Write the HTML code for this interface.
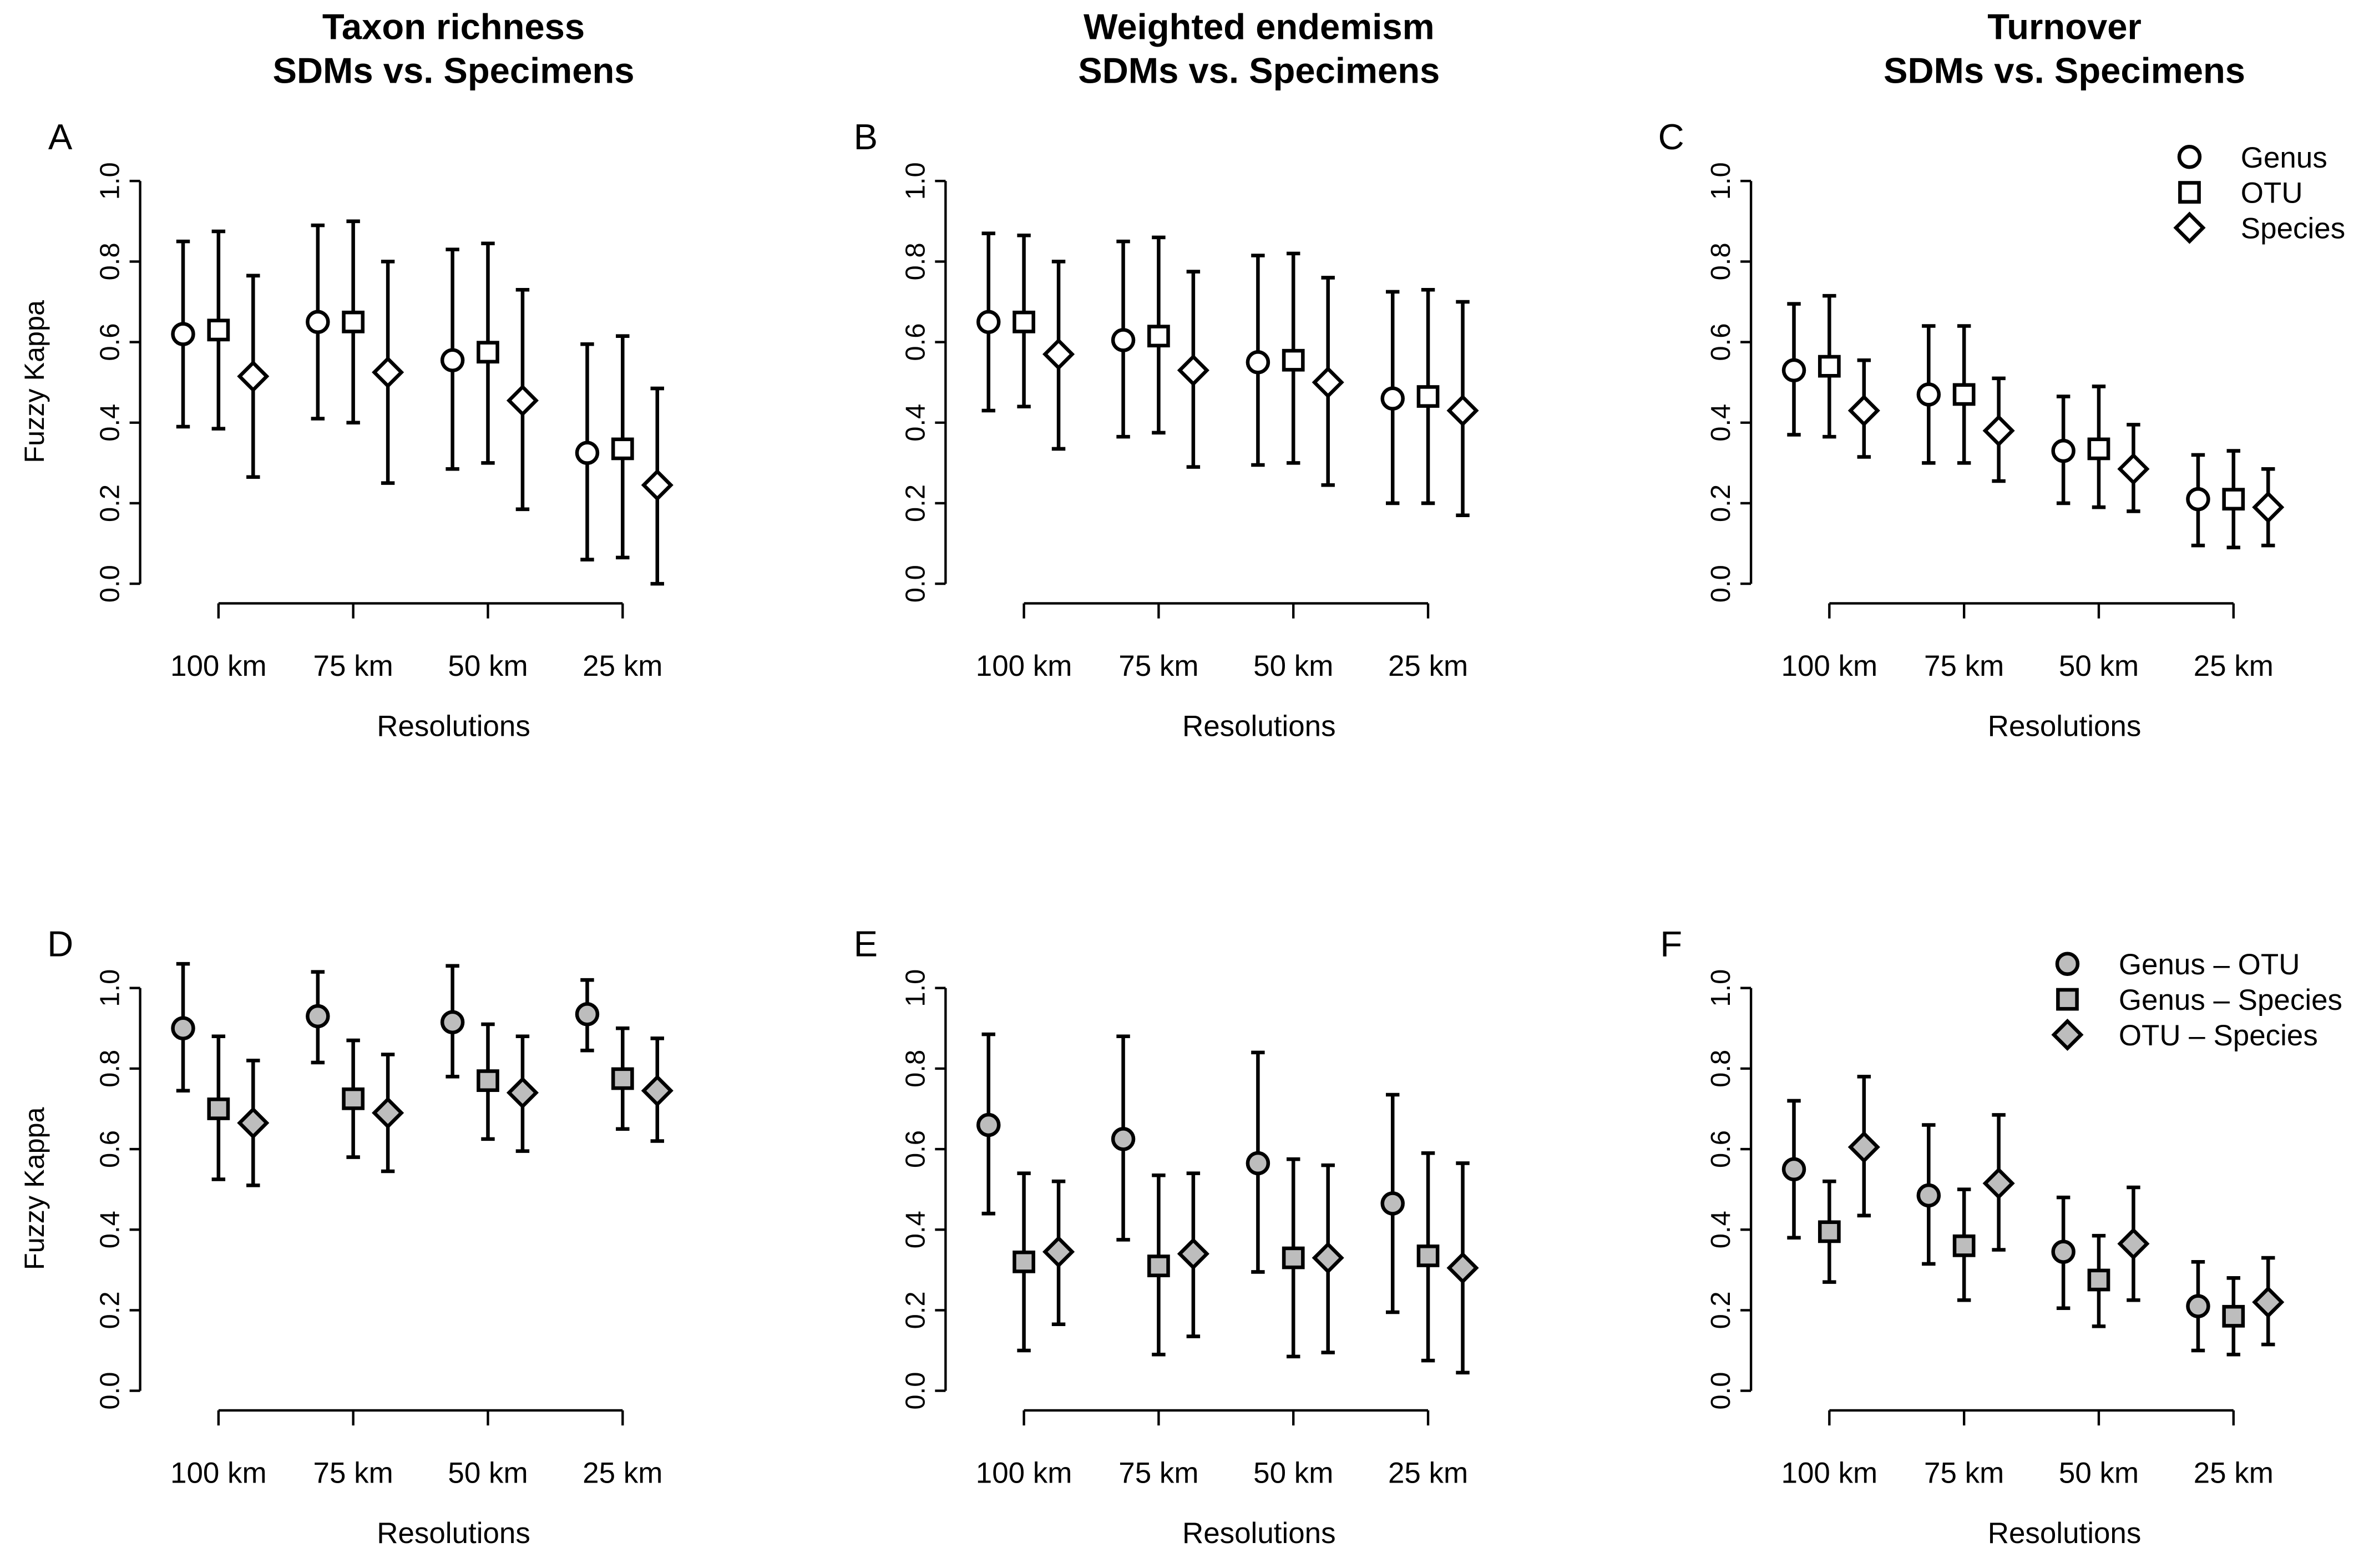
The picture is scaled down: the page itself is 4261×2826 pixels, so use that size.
<!DOCTYPE html>
<html><head><meta charset="utf-8"><style>html,body{margin:0;padding:0;background:#fff}svg{display:block}text{font-family:"Liberation Sans",Arial,sans-serif;fill:#000}</style></head>
<body>
<svg id="chart" width="4261" height="2826" viewBox="0 0 1568.8 1039.5" preserveAspectRatio="none" xmlns="http://www.w3.org/2000/svg"></svg>
<script>
const resolutions = ["100 km","75 km","50 km","25 km"];
const yTicks = [0,0.2,0.4,0.6,0.8,1.0];
const yTickLabels = ["0.0","0.2","0.4","0.6","0.8","1.0"];
const panelLetters = ["A","B","C","D","E","F"];
const colTitles = [["Taxon richness","SDMs vs. Specimens"],["Weighted endemism","SDMs vs. Specimens"],["Turnover","SDMs vs. Specimens"]];
const topSeries = ["Genus","OTU","Species"];
const bottomSeries = ["Genus \u2013 OTU","Genus \u2013 Species","OTU \u2013 Species"];
// per panel: [series][resolution] = mean, low, high
const meanA = [[.62,.65,.555,.325],[.63,.65,.575,.335],[.515,.525,.455,.245]];
const lowA  = [[.39,.41,.285,.06],[.385,.40,.30,.065],[.265,.25,.185,.0]];
const highA = [[.85,.89,.83,.595],[.875,.90,.845,.615],[.765,.80,.73,.485]];
const meanB = [[.65,.605,.55,.46],[.65,.615,.555,.465],[.57,.53,.50,.43]];
const lowB  = [[.43,.365,.295,.20],[.44,.375,.30,.20],[.335,.29,.245,.17]];
const highB = [[.87,.85,.815,.725],[.865,.86,.82,.73],[.80,.775,.76,.70]];
const meanC = [[.53,.47,.33,.21],[.54,.47,.335,.21],[.43,.38,.285,.19]];
const lowC  = [[.37,.30,.20,.095],[.365,.30,.19,.09],[.315,.255,.18,.095]];
const highC = [[.695,.64,.465,.32],[.715,.64,.49,.33],[.555,.51,.395,.285]];
const meanD = [[.90,.93,.915,.935],[.70,.725,.77,.775],[.665,.69,.74,.745]];
const lowD  = [[.745,.815,.78,.845],[.525,.58,.625,.65],[.51,.545,.595,.62]];
const highD = [[1.06,1.04,1.055,1.02],[.88,.87,.91,.90],[.82,.835,.88,.875]];
const meanE = [[.66,.625,.565,.465],[.32,.31,.33,.335],[.345,.34,.33,.305]];
const lowE  = [[.44,.375,.295,.195],[.10,.09,.085,.075],[.165,.135,.095,.045]];
const highE = [[.885,.88,.84,.735],[.54,.535,.575,.59],[.52,.54,.56,.565]];
const meanF = [[.55,.485,.345,.21],[.395,.36,.275,.185],[.605,.515,.365,.22]];
const lowF  = [[.38,.315,.205,.10],[.27,.225,.16,.09],[.435,.35,.225,.115]];
const highF = [[.72,.66,.48,.32],[.52,.50,.385,.28],[.78,.685,.505,.33]];

const svg = document.getElementById('chart');
const NS = "http://www.w3.org/2000/svg";
function el(tag, attrs, parent, text){
  const e = document.createElementNS(NS, tag);
  for (const k in attrs) e.setAttribute(k, attrs[k]);
  if (text !== undefined) e.textContent = text;
  (parent||svg).appendChild(e);
  return e;
}
function marker(g, shape, cx, cy, fill){
  let m;
  if (shape===0) m = el('circle',{cx:cx,cy:cy,r:6.8,fill:fill,stroke:'#000','stroke-width':2.4},g);
  else if (shape===1) m = el('rect',{x:cx-6.3,y:cy-6.3,width:12.6,height:12.6,fill:fill,stroke:'#000','stroke-width':2.4},g);
  else m = el('polygon',{points:`${cx},${cy-9} ${cx+9},${cy} ${cx},${cy+9} ${cx-9},${cy}`,fill:fill,stroke:'#000','stroke-width':2.4},g);
  return m;
}
const panels = [[meanA,lowA,highA],[meanB,lowB,highB],[meanC,lowC,highC],[meanD,lowD,highD],[meanE,lowE,highE],[meanF,lowF,highF]];
panels.forEach((p, pi) => {
  const col = pi%3, row = Math.floor(pi/3);
  const ox = col*534.5, oy = row*535;
  const g = el('g',{},svg);
  
  
  const yS = v => oy + 387 - v*267;
  const xS = i => ox + 145 + i*89.4;
  const offs = [-23.5,0,23];
  if (row===0){
    const t = el('text',{x:ox+301,y:26,'text-anchor':'middle','font-size':24,'font-weight':'bold'},g,colTitles[col][0]);
     
    const t2 = el('text',{x:ox+301,y:55,'text-anchor':'middle','font-size':24,'font-weight':'bold'},g,colTitles[col][1]);
     
  }
  const lt = el('text',{x:ox+40,y:oy+99,'text-anchor':'middle','font-size':24},g,panelLetters[pi]);
   
  const ya = el('g',{},g);
   
  el('line',{x1:ox+93,x2:ox+93,y1:yS(0),y2:yS(1),stroke:'#000','stroke-width':1.6},ya);
  yTicks.forEach((v,i)=>{
    el('line',{x1:ox+86,x2:ox+93,y1:yS(v),y2:yS(v),stroke:'#000','stroke-width':1.6},ya);
    const tl = el('text',{x:0,y:0,'text-anchor':'middle','font-size':18,transform:`translate(${ox+79},${yS(v)}) rotate(-90)`},ya,yTickLabels[i]);
     
  });
  if (col===0){
    const yt = el('text',{x:0,y:0,'text-anchor':'middle','font-size':18.5,transform:`translate(${ox+29},${oy+253}) rotate(-90)`},g,'Fuzzy Kappa');
     
  }
  const xa = el('g',{},g);
   
  el('line',{x1:xS(0),x2:xS(3),y1:oy+400,y2:oy+400,stroke:'#000','stroke-width':1.6},xa);
  resolutions.forEach((r,i)=>{
    el('line',{x1:xS(i),x2:xS(i),y1:oy+400,y2:oy+410,stroke:'#000','stroke-width':1.6},xa);
    const tl = el('text',{x:xS(i),y:oy+448,'text-anchor':'middle','font-size':19.5},xa,r);
     
  });
  const xt = el('text',{x:ox+301,y:oy+488,'text-anchor':'middle','font-size':19.5},g,'Resolutions');
   
  const [mean,low,high] = p;
  const fill = row===0 ? '#fff' : '#bdbdbd';
  for (let s=0;s<3;s++){
    for (let i=0;i<4;i++){
      const cx = xS(i)+offs[s];
      const eb = el('g',{},g);
      
      
      el('line',{x1:cx,x2:cx,y1:yS(low[s][i]),y2:yS(high[s][i]),stroke:'#000','stroke-width':2.4},eb);
      el('line',{x1:cx-4.5,x2:cx+4.5,y1:yS(low[s][i]),y2:yS(low[s][i]),stroke:'#000','stroke-width':2.4},eb);
      el('line',{x1:cx-4.5,x2:cx+4.5,y1:yS(high[s][i]),y2:yS(high[s][i]),stroke:'#000','stroke-width':2.4},eb);
      const m = marker(g,s,cx,yS(mean[s][i]),fill);
      
      
    }
  }
  if (col===2){
    const lg = el('g',{},g);
     
    const names = row===0 ? topSeries : bottomSeries;
    const lx = row===0 ? 1453 : 1372;
    const ly = row===0 ? 104 : 639;
    names.forEach((n,s)=>{
      const y = ly + s*23.5;
      const m = marker(lg,s,lx,y,fill);
       
      const t = el('text',{x:lx+34,y:y+7,'font-size':19.5},lg,n);
       
    });
  }
});
</script>
</body></html>
